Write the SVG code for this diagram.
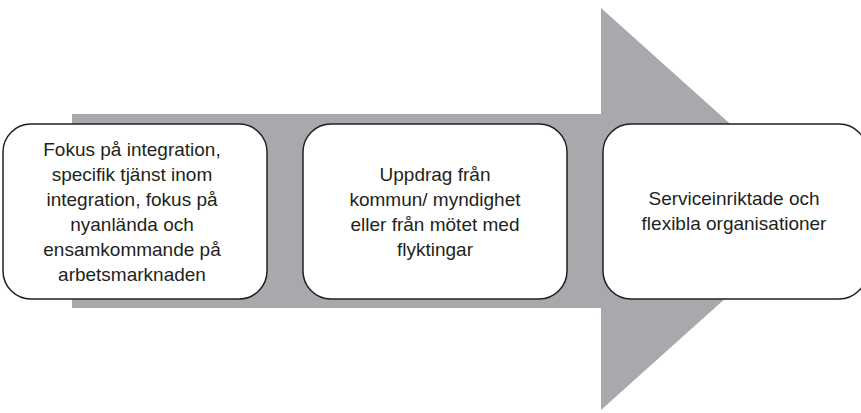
<svg xmlns="http://www.w3.org/2000/svg" width="861" height="413" viewBox="0 0 861 413">
<style>
.box{fill:#fff;stroke:#231f20;stroke-width:1.5}
.t{font-family:"Liberation Sans",Arial,sans-serif;font-size:19px;fill:#231f20;text-anchor:middle}
</style>
<rect width="861" height="413" fill="#fff"/>
<g id="connectors">
<polygon points="72,114 601,114 601,8 825,209 601,410 601,308 72,308" fill="#a7a9ac"/>
</g>
<g id="node1">
<rect class="box" x="3" y="124" width="264" height="175" rx="28" ry="28"/>
<text class="t" x="132" y="156">Fokus på integration,</text>
<text class="t" x="132" y="181">specifik tjänst inom</text>
<text class="t" x="132" y="206">integration, fokus på</text>
<text class="t" x="132" y="231">nyanlända och</text>
<text class="t" x="132" y="256">ensamkommande på</text>
<text class="t" x="132" y="281">arbetsmarknaden</text>
</g>
<g id="node2">
<rect class="box" x="303" y="124" width="264" height="175" rx="28" ry="28"/>
<text class="t" x="435" y="181">Uppdrag från</text>
<text class="t" x="435" y="206">kommun/ myndighet</text>
<text class="t" x="435" y="231">eller från mötet med</text>
<text class="t" x="435" y="256">flyktingar</text>
</g>
<g id="node3">
<rect class="box" x="603" y="124" width="264" height="175" rx="28" ry="28"/>
<text class="t" x="734" y="205">Serviceinriktade och</text>
<text class="t" x="734" y="230">flexibla organisationer</text>
</g>
</svg>
